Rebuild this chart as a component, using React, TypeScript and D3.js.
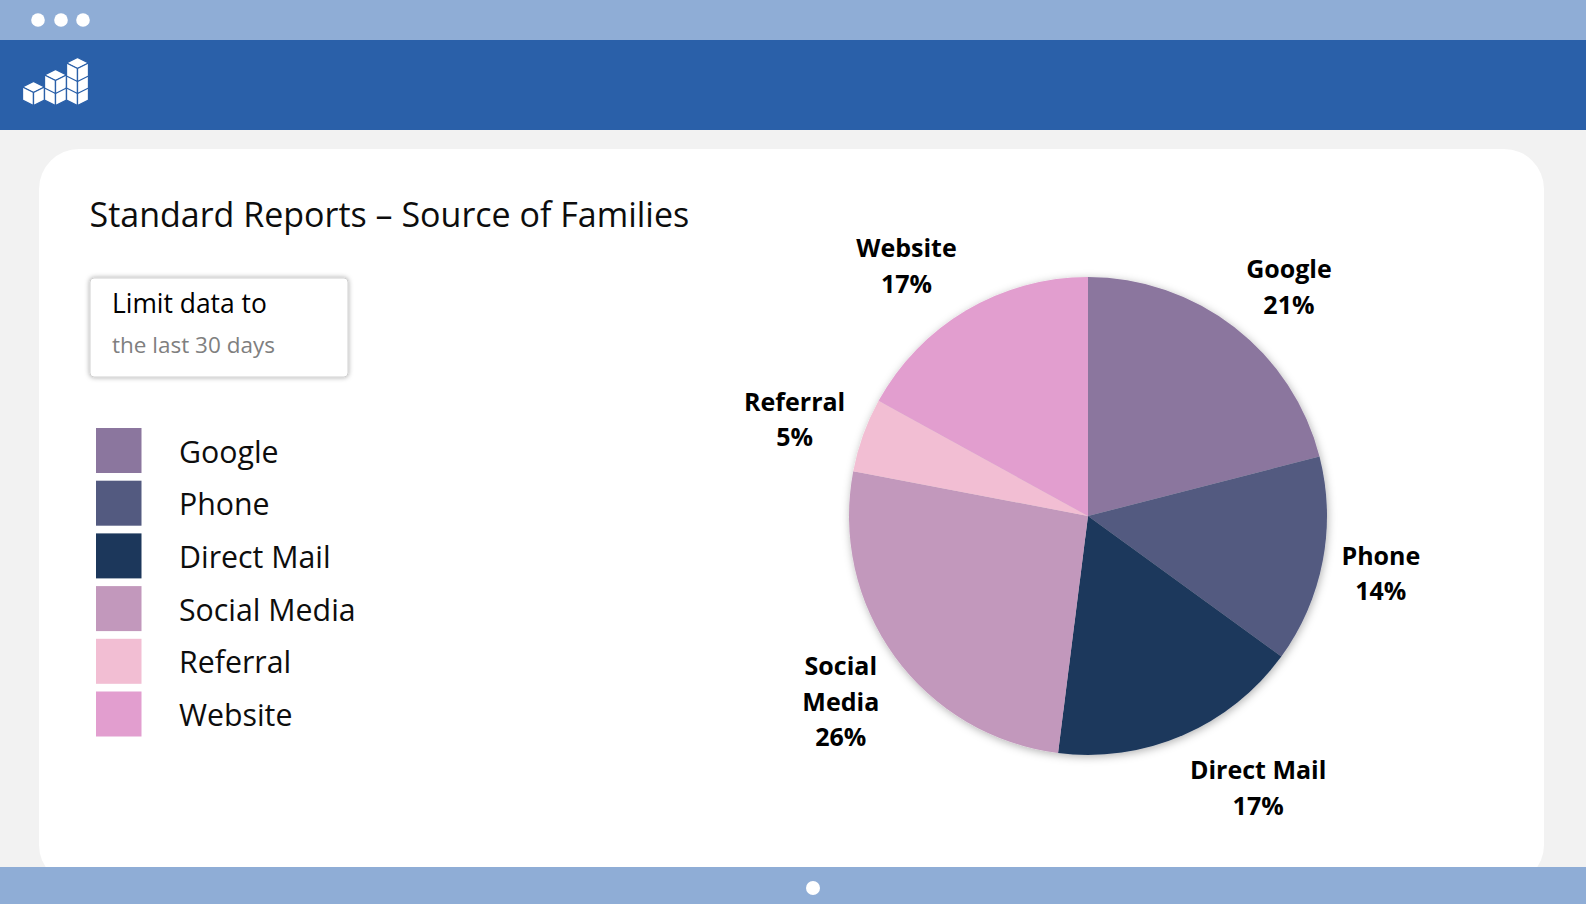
import React, { useEffect, useRef } from "react";
import * as d3 from "d3";

const categories = ["Google", "Phone", "Direct Mail", "Social Media", "Referral", "Website"];
const values = [21, 14, 17, 26, 5, 17];
const colors = ["#8B769E", "#535A80", "#1C375B", "#C298BC", "#F2BED3", "#E29ECF"];
const labelLines = [["Google"], ["Phone"], ["Direct Mail"], ["Social", "Media"], ["Referral"], ["Website"]];
const titleText = "Standard Reports \u2013 Source of Families";
const filterTitle = "Limit data to";
const filterValue = "the last 30 days";

const W = 1586;
const H = 904;
const FONT = "'Open Sans', 'Noto Sans', sans-serif";

export default function App() {
  const ref = useRef<SVGSVGElement | null>(null);

  useEffect(() => {
    const svg = d3.select(ref.current);
    svg.selectAll("*").remove();

    const defs = svg.append("defs");
    const f1 = defs.append("filter").attr("id", "pieShadow").attr("x", "-20%").attr("y", "-20%").attr("width", "140%").attr("height", "140%");
    f1.append("feDropShadow").attr("dx", 1).attr("dy", 2).attr("stdDeviation", 4).attr("flood-color", "#000").attr("flood-opacity", 0.3);
    const f2 = defs.append("filter").attr("id", "boxShadow").attr("x", "-20%").attr("y", "-30%").attr("width", "140%").attr("height", "160%");
    f2.append("feDropShadow").attr("dx", 0).attr("dy", 0).attr("stdDeviation", 2.5).attr("flood-color", "#000").attr("flood-opacity", 0.35);

    // background
    svg.append("rect").attr("width", W).attr("height", H).attr("fill", "#F2F2F2");
    // card
    svg.append("rect").attr("x", 39).attr("y", 149).attr("width", 1505).attr("height", 736).attr("rx", 40).attr("fill", "#FFFFFF");

    // top bars
    svg.append("rect").attr("x", 0).attr("y", 0).attr("width", W).attr("height", 40).attr("fill", "#8FADD6");
    [38, 61, 83].forEach((cx) => svg.append("circle").attr("cx", cx).attr("cy", 20).attr("r", 6.8).attr("fill", "#FFFFFF"));
    svg.append("rect").attr("x", 0).attr("y", 40).attr("width", W).attr("height", 90).attr("fill", "#2A60A9");

    // logo cubes
    const logo = svg.append("g");
    const cube = (x: number, y: number) => {
      const w = 22, h = 24, t = 5.5;
      const g = logo.append("g").attr("fill", "#FFFFFF").attr("stroke", "#2A60A9").attr("stroke-width", 1.3).attr("stroke-linejoin", "round");
      g.append("path").attr("d", `M${x},${y + t}L${x + w / 2},${y}L${x + w},${y + t}L${x + w / 2},${y + 2 * t}Z`);
      g.append("path").attr("d", `M${x},${y + t}L${x + w / 2},${y + 2 * t}L${x + w / 2},${y + h}L${x},${y + h - t}Z`);
      g.append("path").attr("d", `M${x + w},${y + t}L${x + w / 2},${y + 2 * t}L${x + w / 2},${y + h}L${x + w},${y + h - t}Z`);
    };
    const cols = [1, 2, 3];
    cols.forEach((n, ci) => {
      for (let k = 0; k < n; k++) cube(22.5 + ci * 22, 81.5 - k * 12);
    });

    // bottom bar
    svg.append("rect").attr("x", 0).attr("y", 867).attr("width", W).attr("height", H - 867).attr("fill", "#8FADD6");
    svg.append("circle").attr("cx", 813).attr("cy", 888).attr("r", 7).attr("fill", "#FFFFFF");

    // title
    svg.append("text").attr("x", 89.5).attr("y", 227).attr("font-family", FONT).attr("font-size", 34).attr("fill", "#0D0D0D").text(titleText);

    // filter box
    svg.append("rect").attr("x", 90).attr("y", 278).attr("width", 258).attr("height", 99).attr("rx", 4).attr("fill", "#FFFFFF").attr("stroke", "#D0D0D0").attr("stroke-width", 1).attr("filter", "url(#boxShadow)");
    svg.append("text").attr("x", 112).attr("y", 313).attr("font-family", FONT).attr("font-size", 26.4).attr("fill", "#000").text(filterTitle);
    svg.append("text").attr("x", 112).attr("y", 353).attr("font-family", FONT).attr("font-size", 22.5).attr("fill", "#7F7F7F").text(filterValue);

    // legend
    const ly = d3.scaleBand<string>().domain(categories).range([428, 428 + 52.7 * categories.length]).paddingInner(0).paddingOuter(0);
    const color = d3.scaleOrdinal<string, string>().domain(categories).range(colors);
    const lg = svg.append("g");
    categories.forEach((c) => {
      const y0 = ly(c) as number;
      lg.append("rect").attr("x", 96).attr("y", y0).attr("width", 45.5).attr("height", 45).attr("fill", color(c));
      lg.append("text").attr("x", 179).attr("y", y0 + 34.5).attr("font-family", FONT).attr("font-size", 30.3).attr("fill", "#0D0D0D").text(c);
    });

    // pie
    const cx = 1088, cy = 516, r = 239;
    const total = d3.sum(values);
    const pct = d3.format(".0%");
    const data = categories.map((c, i) => ({ c, v: values[i], i }));
    const arcs = d3.pie<any>().value((d: any) => d.v).sort(null).startAngle(0).endAngle(2 * Math.PI)(data);
    const arc = d3.arc<any>().innerRadius(0).outerRadius(r);
    const pg = svg.append("g").attr("transform", `translate(${cx},${cy})`);
    pg.append("g").attr("filter", "url(#pieShadow)")
      .selectAll("path").data(arcs).join("path")
      .attr("d", arc as any).attr("fill", (d: any) => color(d.data.c));

    // labels (outside end, box touching the slice's mid-angle direction)
    const lineH = 35.5;
    const gap = 19;
    const kx = 2.5;
    const ky = 1.0;
    const clamp = (v: number) => Math.max(-1, Math.min(1, v));
    arcs.forEach((a: any) => {
      const lines = [...labelLines[a.data.i], pct(a.data.v / total)];
      const g = pg.append("g");
      const t = g.append("text").attr("font-family", FONT).attr("font-weight", 700).attr("font-size", 25).attr("fill", "#000").attr("text-anchor", "middle");
      lines.forEach((ln, j) => t.append("tspan").attr("x", 0).attr("y", j * lineH).text(ln));
      const bb = (t.node() as SVGTextElement).getBBox();
      const w = bb.width;
      const h = lines.length * lineH;
      const th = (a.startAngle + a.endAngle) / 2;
      const sx = Math.sin(th), sy = -Math.cos(th);
      const ax = (r + gap) * sx, ay = (r + gap) * sy;
      const mx = ax + (w / 2) * clamp(kx * sx);
      const my = ay + (h / 2) * clamp(ky * sy);
      const top = my - h / 2;
      g.attr("transform", `translate(${mx},${top + lineH * 0.83})`);
    });
  }, []);

  return (
    <div style={{ position: "absolute", left: 0, top: 0 }}>
      <svg ref={ref} width={W} height={H} style={{ display: "block" }} />
    </div>
  );
}
